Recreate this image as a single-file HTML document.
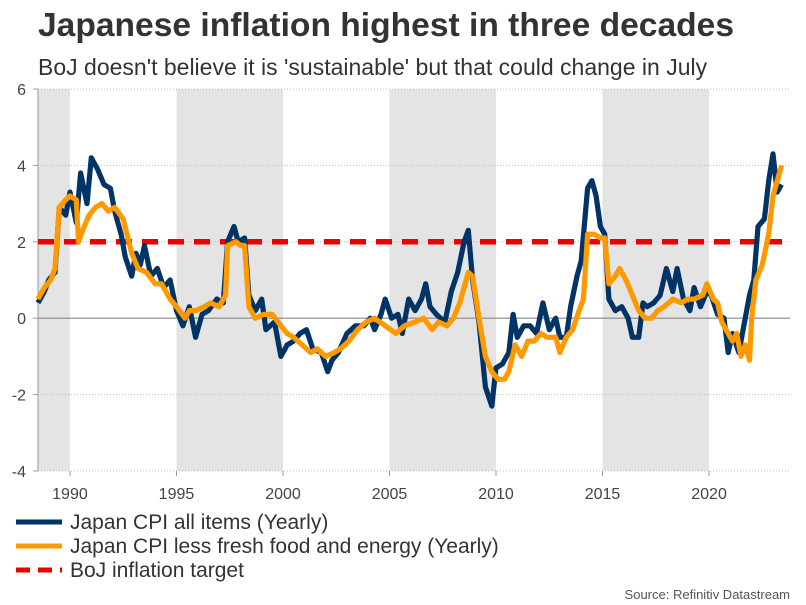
<!DOCTYPE html>
<html><head><meta charset="utf-8"><style>
body{margin:0;background:#fff;width:806px;height:605px;overflow:hidden;font-family:"Liberation Sans",Arial,sans-serif}
svg{position:absolute;left:0;top:0}
</style></head><body>
<svg id="c" width="806" height="605">
<text x="38" y="36" font-size="33.6" font-weight="bold" fill="#333">Japanese inflation highest in three decades</text>
<text x="38" y="75" font-size="23" fill="#333">BoJ doesn't believe it is 'sustainable' but that could change in July</text>
<g id="bands"></g><g id="grid"></g><g id="axes"></g><g id="series"></g>
<g>
<line x1="16" y1="522" x2="62" y2="522" stroke="#003366" stroke-width="5"/>
<text x="70" y="529" font-size="21" fill="#333">Japan CPI all items (Yearly)</text>
<line x1="16" y1="546" x2="62" y2="546" stroke="#ff9900" stroke-width="5"/>
<text x="70" y="553" font-size="21" fill="#333">Japan CPI less fresh food and energy (Yearly)</text>
<line x1="16" y1="570" x2="62" y2="570" stroke="#ee0000" stroke-width="5" stroke-dasharray="14,8"/>
<text x="70" y="577" font-size="21" fill="#333">BoJ inflation target</text>
</g>
<text x="790" y="599" font-size="13" fill="#555" text-anchor="end">Source: Refinitiv Datastream</text>
</svg>
<script>
const yTicks=[-4,-2,0,2,4,6];
const xTicks=[1990,1995,2000,2005,2010,2015,2020];
const bandStarts=[1988.5,1995,2005,2015];
const bandEnds=[1990,2000,2010,2020];
const target=2;
const cpiDates=[1988.5,1988.8,1989.0,1989.3,1989.5,1989.8,1990.0,1990.3,1990.5,1990.8,1991.0,1991.3,1991.6,1991.9,1992.1,1992.4,1992.6,1992.9,1993.1,1993.3,1993.5,1993.8,1994.1,1994.4,1994.7,1995.0,1995.3,1995.6,1995.9,1996.2,1996.5,1996.9,1997.2,1997.4,1997.7,1997.9,1998.2,1998.4,1998.7,1999.0,1999.2,1999.6,1999.9,2000.2,2000.5,2000.8,2001.1,2001.4,2001.8,2002.1,2002.3,2002.6,2003.0,2003.4,2003.8,2004.1,2004.3,2004.6,2004.8,2005.1,2005.4,2005.6,2005.9,2006.2,2006.5,2006.7,2006.9,2007.2,2007.6,2007.9,2008.2,2008.5,2008.7,2008.9,2009.2,2009.5,2009.8,2010.0,2010.3,2010.6,2010.8,2011.0,2011.3,2011.6,2011.9,2012.2,2012.5,2012.8,2013.0,2013.3,2013.5,2013.8,2014.0,2014.3,2014.5,2014.7,2014.9,2015.1,2015.3,2015.6,2015.9,2016.2,2016.4,2016.7,2016.9,2017.1,2017.4,2017.7,2018.0,2018.3,2018.5,2018.8,2019.1,2019.3,2019.6,2019.9,2020.1,2020.4,2020.7,2020.9,2021.1,2021.4,2021.6,2021.9,2022.1,2022.3,2022.6,2022.8,2023.0,2023.2,2023.4];
const cpiValues=[0.4,0.7,1.0,1.2,2.9,2.7,3.3,2.5,3.8,3.0,4.2,3.9,3.5,3.4,2.8,2.2,1.6,1.1,1.7,1.4,1.9,1.1,1.3,0.8,1.0,0.2,-0.2,0.3,-0.5,0.1,0.2,0.5,0.4,2.0,2.4,2.0,2.1,0.6,0.2,0.5,-0.3,-0.1,-1.0,-0.7,-0.6,-0.4,-0.3,-0.8,-0.9,-1.4,-1.1,-0.9,-0.4,-0.2,-0.2,0.0,-0.3,0.1,0.5,0.0,0.1,-0.4,0.5,0.2,0.5,0.9,0.3,0.1,-0.1,0.7,1.2,2.0,2.3,1.0,-0.1,-1.8,-2.3,-1.3,-1.2,-0.9,0.1,-0.5,-0.2,-0.2,-0.4,0.4,-0.3,0.0,-0.5,-0.5,0.3,1.1,1.5,3.4,3.6,3.2,2.4,2.2,0.5,0.2,0.3,0.0,-0.5,-0.5,0.4,0.3,0.4,0.6,1.3,0.7,1.3,0.5,0.2,0.8,0.3,0.7,0.6,0.1,0.0,-0.9,-0.4,-0.9,-0.3,0.6,1.0,2.4,2.6,3.6,4.3,3.3,3.5];
const coreDates=[1988.5,1988.8,1989.1,1989.3,1989.5,1989.8,1990.0,1990.3,1990.4,1990.6,1990.9,1991.2,1991.5,1991.8,1992.1,1992.5,1992.9,1993.2,1993.6,1994.0,1994.3,1994.7,1995.0,1995.4,1995.6,1995.9,1996.3,1996.6,1997.0,1997.3,1997.4,1997.8,1998.0,1998.2,1998.4,1998.7,1999.1,1999.5,1999.9,2000.2,2000.5,2000.9,2001.3,2001.6,2002.0,2002.4,2002.7,2003.1,2003.5,2003.9,2004.3,2004.8,2005.3,2005.7,2006.2,2006.6,2007.0,2007.3,2007.7,2008.0,2008.3,2008.7,2008.9,2009.2,2009.5,2009.8,2010.1,2010.4,2010.6,2010.9,2011.2,2011.5,2011.8,2012.1,2012.4,2012.8,2013.0,2013.3,2013.6,2013.9,2014.1,2014.3,2014.6,2014.9,2015.1,2015.3,2015.6,2015.8,2016.1,2016.4,2016.7,2017.0,2017.3,2017.6,2017.9,2018.3,2018.7,2019.0,2019.3,2019.7,2019.9,2020.2,2020.4,2020.6,2020.9,2021.1,2021.3,2021.5,2021.7,2021.9,2022.0,2022.2,2022.5,2022.8,2023.0,2023.4];
const coreValues=[0.5,0.8,1.0,1.3,2.9,3.1,3.2,3.1,2.0,2.3,2.7,2.9,3.0,2.8,2.9,2.6,1.7,1.3,1.2,0.9,0.9,0.5,0.3,0.0,0.2,0.2,0.3,0.4,0.3,0.6,1.9,2.0,1.9,1.9,0.3,0.0,0.1,0.1,-0.2,-0.4,-0.5,-0.7,-0.9,-0.8,-1.0,-0.9,-0.8,-0.6,-0.3,-0.1,0.0,-0.2,-0.4,-0.2,-0.1,0.0,-0.3,-0.1,-0.2,0.0,0.4,1.2,1.1,0.0,-1.0,-1.4,-1.6,-1.6,-1.4,-0.7,-1.0,-0.6,-0.6,-0.4,-0.5,-0.5,-0.9,-0.5,-0.3,0.2,0.5,2.2,2.2,2.1,2.1,0.9,1.1,1.3,1.0,0.6,0.2,0.0,0.0,0.2,0.3,0.5,0.4,0.5,0.5,0.6,0.9,0.5,0.4,-0.1,-0.4,-0.6,-0.4,-1.0,-0.7,-1.1,0.0,1.0,1.4,2.2,3.2,4.0];

const NS="http://www.w3.org/2000/svg";
const X0=38,X1=790,Y0=471,Y1=89,T0=1988.5,T1=2023.8;
const xs=t=>X0+(t-T0)/(T1-T0)*(X1-X0);
const ys=v=>Y0-(v-(-4))/10*(Y0-Y1);
function mk(p,tag,at){const e=document.createElementNS(NS,tag);for(const k in at)e.setAttribute(k,at[k]);p.appendChild(e);return e;}
const bands=document.getElementById('bands'),grid=document.getElementById('grid'),axes=document.getElementById('axes'),ser=document.getElementById('series');
bandStarts.forEach((s,i)=>{const r=mk(bands,'rect',{x:xs(s),y:Y1,width:xs(bandEnds[i])-xs(s),height:Y0-Y1,fill:'#e4e4e4'});

});
yTicks.forEach(v=>{
 const l=mk(grid,'line',{x1:X0,x2:X1,y1:ys(v),y2:ys(v),stroke:v===0?'#888':'#bbb','stroke-width':v===0?1.2:1,'stroke-dasharray':v===0?'none':'1,2'});
 
 
 mk(axes,'line',{x1:X0-5,x2:X0,y1:ys(v),y2:ys(v),stroke:'#999'});
 const t=mk(axes,'text',{x:X0-12,y:ys(v)+6,'font-size':16,fill:'#444','text-anchor':'end'});t.textContent=v;
 
 
});
mk(axes,'line',{x1:X0,x2:X0,y1:Y1,y2:Y0,stroke:'#999'});
xTicks.forEach(v=>{
 mk(axes,'line',{x1:xs(v),x2:xs(v),y1:Y0,y2:Y0+5,stroke:'#999'});
 const t=mk(axes,'text',{x:xs(v),y:Y0+28,'font-size':16,fill:'#444','text-anchor':'middle'});t.textContent=v;
 
 
});
function path(d,v){return d.map((t,i)=>(i?'L':'M')+xs(t).toFixed(1)+','+ys(v[i]).toFixed(1)).join('');}
const tl=mk(ser,'line',{x1:X0,x2:X1,y1:ys(target),y2:ys(target),stroke:'#ee0000','stroke-width':5.5,'stroke-dasharray':'16,10'});


const p1=mk(ser,'path',{d:path(cpiDates,cpiValues),fill:'none',stroke:'#003366','stroke-width':5.2,'stroke-linejoin':'round'});


const p2=mk(ser,'path',{d:path(coreDates,coreValues),fill:'none',stroke:'#ff9900','stroke-width':5.2,'stroke-linejoin':'round'});


</script>
</body></html>
